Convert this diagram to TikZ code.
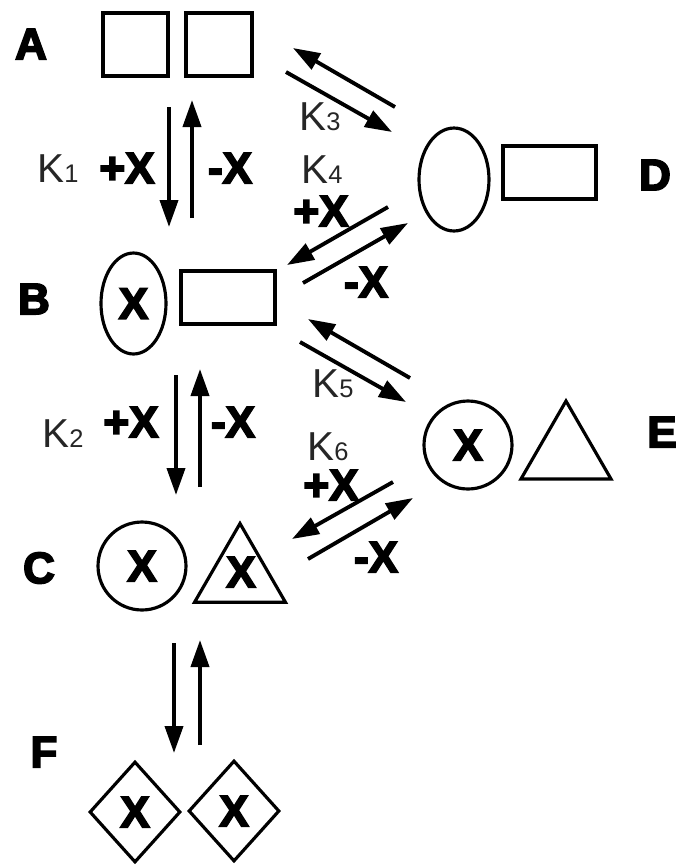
\documentclass[tikz,border=0pt]{standalone}
\usepackage{fontspec}
\setmainfont{Liberation Sans}
\newfontfamily\heavy[FakeBold=4]{Liberation Sans Bold}
\usetikzlibrary{shapes.geometric,arrows.meta}
\tikzset{
  lab/.style={font=\heavy\fontsize{25}{25}\selectfont, inner sep=0pt},
  xsym/.style={font=\heavy\fontsize{25}{25}\selectfont, inner sep=0pt},
  klab/.style={font=\fontsize{23}{23}\selectfont, text=black!85, inner sep=0pt, anchor=base west},
  shp/.style={draw, line width=1.8pt, inner sep=0pt},
  arr/.style={line width=2.2pt, -{Triangle[length=0.54cm, width=0.36cm]}},
}
\newcommand{\kk}[1]{K{\fontsize{14.5}{14.5}\selectfont #1}}
\begin{document}
\begin{tikzpicture}[x=0.02cm, y=-0.02cm]
\useasboundingbox (0,0) rectangle (679,867);
% labels
\node[lab] (lA) at (31,44) {A};
\node[lab] (lB) at (34,299) {B};
\node[lab] (lC) at (39,568) {C};
\node[lab] (lD) at (655,175) {D};
\node[lab] (lE) at (662,432) {E};
\node[lab] (lF) at (44,752) {F};
% A
\node[shp, rectangle, minimum width=1.30cm, minimum height=1.26cm] (a1) at (135.5,44.5) {};
\node[shp, rectangle, minimum width=1.32cm, minimum height=1.26cm] (a2) at (219,44.5) {};
% B
\node[shp, ellipse, minimum width=1.30cm, minimum height=2.02cm, xsym] (b1) at (133.5,303.5) {X};
\node[shp, rectangle, minimum width=1.88cm, minimum height=1.06cm] (b2) at (228,297.5) {};
% D
\node[shp, ellipse, minimum width=1.40cm, minimum height=2.06cm] (d1) at (454,179.5) {};
\node[shp, rectangle, minimum width=1.86cm, minimum height=1.06cm] (d2) at (549.5,172.5) {};
% E
\node[shp, circle, minimum size=1.76cm, xsym] (e1) at (468,445) {X};
\node[shp, regular polygon, regular polygon sides=3, minimum size=2.08cm] (e2) at (566,453) {};
% C
\node[shp, circle, minimum size=1.76cm, xsym] (c1) at (142,566) {X};
\node[shp, regular polygon, regular polygon sides=3, minimum size=2.1cm] (c2) at (240,576) {};
\node[xsym] (c2x) at (241,572) {X};
% F
\node[shp, diamond, minimum width=1.82cm, minimum height=2.02cm, xsym] (f1) at (135,812) {X};
\node[shp, diamond, minimum width=1.82cm, minimum height=2.02cm, xsym] (f2) at (234,811) {X};
% arrow end points
\coordinate (ab1) at (169,107); \coordinate (ab2) at (169,227);
\coordinate (ba1) at (192,218); \coordinate (ba2) at (192,100);
\coordinate (da1) at (395,107); \coordinate (da2) at (293,48);
\coordinate (ad1) at (286,72);  \coordinate (ad2) at (392,132);
\coordinate (db1) at (388,207); \coordinate (db2) at (287,265);
\coordinate (bd1) at (303,283); \coordinate (bd2) at (408,223);
\coordinate (eb1) at (410,378); \coordinate (eb2) at (308,319);
\coordinate (be1) at (300,342); \coordinate (be2) at (406,402);
\coordinate (bc1) at (176,375); \coordinate (bc2) at (176,495);
\coordinate (cb1) at (200,487); \coordinate (cb2) at (200,369);
\coordinate (ec1) at (393,482); \coordinate (ec2) at (292,539);
\coordinate (ce1) at (308,559); \coordinate (ce2) at (413,498);
\coordinate (cf1) at (174,643); \coordinate (cf2) at (174,753);
\coordinate (fc1) at (200,745); \coordinate (fc2) at (200,640);
\draw[arr] (ab1) -- (ab2);
\draw[arr] (ba1) -- (ba2);
\draw[arr] (da1) -- (da2);
\draw[arr] (ad1) -- (ad2);
\draw[arr] (db1) -- (db2);
\draw[arr] (bd1) -- (bd2);
\draw[arr] (eb1) -- (eb2);
\draw[arr] (be1) -- (be2);
\draw[arr] (bc1) -- (bc2);
\draw[arr] (cb1) -- (cb2);
\draw[arr] (ec1) -- (ec2);
\draw[arr] (ce1) -- (ce2);
\draw[arr] (cf1) -- (cf2);
\draw[arr] (fc1) -- (fc2);
% K labels
\node[klab] (k1) at (37,182) {\kk{1}};
\node[klab] (k2) at (42,447) {\kk{2}};
\node[klab] (k3) at (299,130) {\kk{3}};
\node[klab] (k4) at (301,183) {\kk{4}};
\node[klab] (k5) at (312,397) {\kk{5}};
\node[klab] (k6) at (307,460) {\kk{6}};
% +X / -X
\node[xsym] (p1) at (127,168) {+X};
\node[xsym] (m1) at (230,168) {-X};
\node[xsym] (p4) at (321,211) {+X};
\node[xsym] (m4) at (366,282) {-X};
\node[xsym] (p2) at (131,422) {+X};
\node[xsym] (m2) at (233,422) {-X};
\node[xsym] (p6) at (331,485) {+X};
\node[xsym] (m6) at (376,557) {-X};
\end{tikzpicture}
\end{document}
